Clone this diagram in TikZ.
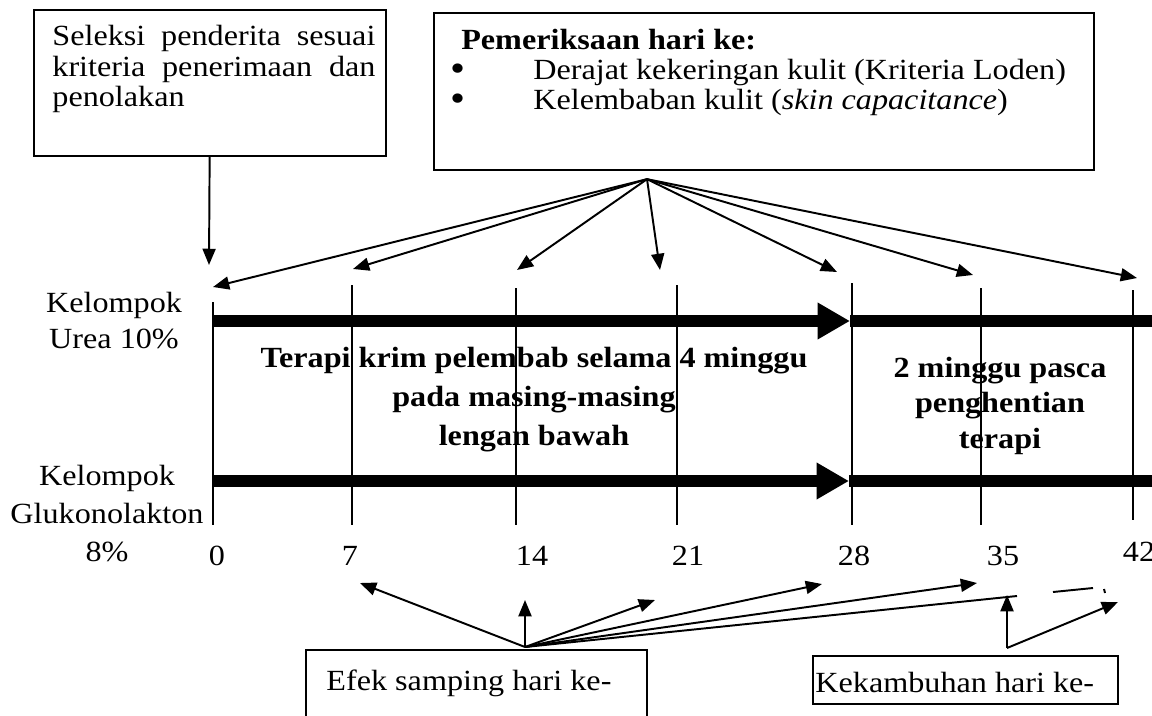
\documentclass[tikz,border=0pt]{standalone}
\usepackage{fontspec}
\setmainfont{Liberation Serif}[FakeStretch=1.10]
\usetikzlibrary{positioning, arrows.meta, calc}

\newcommand{\pxl}{0.4615pt}
\newcommand{\blt}{\makebox[38.3pt][l]{\raisebox{-0.6pt}{\fontsize{18}{18}\selectfont\textbullet}}}

\begin{document}
\begin{tikzpicture}[x=0.4615pt,y=-0.4615pt,
    every node/.style={font=\fontsize{13.5}{13.85}\selectfont},
    frame/.style={draw,line width=1pt,inner sep=0pt,anchor=north west},
    txt/.style={inner sep=0pt},
    arr/.style={-{Triangle[length=7.5pt,width=6pt]},line width=0.9pt},
    bar/.style={line width=5.5pt},
    tick/.style={line width=0.9pt}]

    \useasboundingbox (0,0) rectangle (1152,715);

    %boxes:
    \node[frame,minimum width=352*\pxl,minimum height=146*\pxl] (sel) at (33,9) {};
    \node[txt,anchor=base west,text width=323*\pxl,align=justify] (seltxt) at (52,46)
        {Seleksi penderita sesuai kriteria penerimaan dan penolakan};

    \node[frame,minimum width=660*\pxl,minimum height=157*\pxl] (pem) at (433,12) {};
    \node[txt,anchor=base west,align=left] (pemtxt) at (450,110)
        {\hspace{5pt}\textbf{Pemeriksaan hari ke:}\\
         \blt Derajat kekeringan kulit (Kriteria Loden)\\
         \blt Kelembaban kulit (\textit{skin capacitance})};

    \node[frame,minimum width=341*\pxl,minimum height=90*\pxl] (efek) at (305,649) {};
    \node[txt,anchor=base west] (efektxt) at (326,690) {Efek samping hari ke-};

    \node[frame,minimum width=305*\pxl,minimum height=48*\pxl] (kek) at (812,655) {};
    \node[txt,anchor=base west] (kektxt) at (815,692) {Kekambuhan hari ke-};

    %groups and days:
    \node[txt,anchor=base,align=center,font=\fontsize{13.5}{16.6}\selectfont] (urea) at (114,348)
        {Kelompok\\Urea 10\%};
    \node[txt,anchor=base,align=center,font=\fontsize{13.5}{17.5}\selectfont] (gluk) at (107,561)
        {Kelompok\\Glukonolakton\\8\%};

    \foreach \d/\x in {0/217,7/350,14/532,21/688,28/854,35/1003}
        \node[txt,anchor=base] (d\d) at (\x,565) {\d};
    \node[txt,anchor=base] (d42) at (1139,561) {42};

    \foreach \x/\t/\b in {213/302/525,352/285/525,516/288/525,677/285/525,
                          852/283/525,981/288/525,1133/290/520}
        \draw[tick] (\x,\t) -- (\x,\b);

    \draw[bar,-{Triangle[length=15pt,width=16pt]}] (213,321) -- (850,321);
    \draw[bar] (850,321) -- (1160,321);
    \draw[bar,-{Triangle[length=15pt,width=16pt]}] (213,481) -- (849,481);
    \draw[bar] (849,481) -- (1160,481);

    \node[txt,anchor=base,align=center,font=\fontsize{13.5}{17.8}\selectfont\bfseries] (ter) at (534,445)
        {Terapi krim pelembab selama 4 minggu\\pada masing-masing\\lengan bawah};
    \node[txt,anchor=base,align=center,font=\fontsize{13.5}{16.2}\selectfont\bfseries] (pasca) at (1000,448)
        {2 minggu pasca\\penghentian\\terapi};

    %putting arrows:
    \coordinate (start) at (209,265);
    \draw[arr] (sel) -- (start);

    \coordinate (pmk) at ($(pem.south west)+(214,8)$);
    \foreach \n/\x/\y in {0/213/287,7/353/269,14/517/270,21/660/270,
                          28/837/272,35/973/275,42/1137/278}{
        \coordinate (top\n) at (\x,\y);
        \draw[arr] (pmk) -- (top\n);
    }

    \coordinate (efk) at ($(efek.north west)+(220,-2)$);
    \foreach \n/\x/\y in {7/360/583,14/525/600,21/655/600,28/822/584,35/977/583}{
        \coordinate (bot\n) at (\x,\y);
        \draw[arr] (efk) -- (bot\n);
    }
    \coordinate (bot42) at (1017,596);
    \draw[tick] (efk) -- (bot42);
    \draw[tick] (1053,592) -- (1093,588);
    \draw[tick] (1104,589) -- (1105,593);

    \coordinate (kmb) at ($(kek.north west)+(195,-7)$);
    \coordinate (rel35) at (1007,595);
    \coordinate (rel42) at (1118,602);
    \draw[arr] (kmb) -- (rel35);
    \draw[arr] (kmb) -- (rel42);

\end{tikzpicture}
\end{document}
